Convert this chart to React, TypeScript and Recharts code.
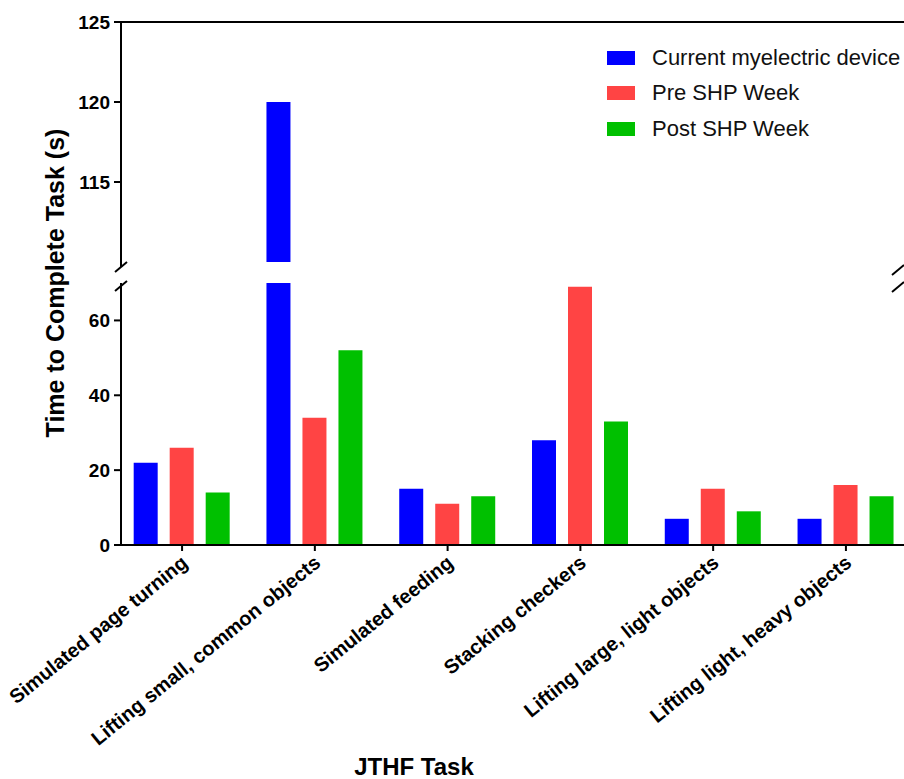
import { BarChart, Bar, XAxis, YAxis, Legend } from 'recharts'

const tasks = [
  'Simulated page turning',
  'Lifting small, common objects',
  'Simulated feeding',
  'Stacking checkers',
  'Lifting large, light objects',
  'Lifting light, heavy objects',
]
const currentDevice = [22, 120, 15, 28, 7, 7]
const preShp = [26, 34, 11, 69, 15, 16]
const postShp = [14, 52, 13, 33, 9, 13]
const seriesNames = ['Current myelectric device', 'Pre SHP Week', 'Post SHP Week']

const upperTicks = [115, 120, 125]
const lowerTicks = [0, 20, 40, 60]
const taskTicks = tasks.map((_, i) => i)

const rows = tasks.map((task, i) => ({
  idx: i,
  task,
  current: currentDevice[i],
  pre: preShp[i],
  post: postShp[i],
}))

const FONT = '"Liberation Sans", Arial, Helvetica, sans-serif'
const BLUE = '#0000ff'
const RED = '#ff4444'
const GREEN = '#00c000'
const X_DOMAIN: [number, number] = [-0.46, 5.46]

const yTick = { fill: '#000', fontSize: 19, fontWeight: 700, fontFamily: FONT }
const axisLine = { stroke: '#000', strokeWidth: 2 }

function TaskTick({ x, y, payload }: any) {
  return (
    <g transform={`translate(${x + 7},${y + 12})`}>
      <text
        x={0}
        y={0}
        textAnchor="end"
        transform="rotate(-39)"
        fill="#000"
        fontSize={20}
        fontWeight={700}
        fontFamily={FONT}
      >
        {tasks[payload.value]}
      </text>
    </g>
  )
}

function LegendBox({ payload }: any) {
  const items = [...(payload || [])].sort(
    (a: any, b: any) => seriesNames.indexOf(a.value) - seriesNames.indexOf(b.value)
  )
  return (
    <div style={{ fontFamily: FONT, fontSize: 22, color: '#111' }}>
      {items.map((entry: any) => (
        <div key={entry.value} style={{ display: 'flex', alignItems: 'center', height: 35.5 }}>
          <span style={{ width: 28, height: 14, background: entry.color, marginRight: 17, display: 'inline-block' }} />
          <span>{entry.value}</span>
        </div>
      ))}
    </div>
  )
}

function bars() {
  return [
    <Bar key="c" dataKey="current" name={seriesNames[0]} fill={BLUE} barSize={24} isAnimationActive={false} />,
    <Bar key="p" dataKey="pre" name={seriesNames[1]} fill={RED} barSize={24} isAnimationActive={false} />,
    <Bar key="o" dataKey="post" name={seriesNames[2]} fill={GREEN} barSize={24} isAnimationActive={false} />,
  ]
}

function Slash({ cx, cy }: { cx: number; cy: number }) {
  return <line x1={cx - 6} y1={cy + 5} x2={cx + 6} y2={cy - 5} stroke="#000" strokeWidth={2} />
}

export default function App() {
  return (
    <div style={{ position: 'absolute', left: 0, top: 0, width: 904, height: 779, overflow: 'hidden', background: '#fff' }}>
      {/* upper segment: 110 - 125 */}
      <div style={{ position: 'absolute', left: 0, top: 0 }}>
        <BarChart width={930} height={262} data={rows} barGap={12} margin={{ top: 21, right: 23, bottom: 0, left: 0 }}>
          <XAxis
            dataKey="idx"
            type="number"
            orientation="top"
            domain={X_DOMAIN}
            ticks={taskTicks}
            height={1}
            tick={false}
            tickLine={false}
            axisLine={axisLine}
          />
          <YAxis
            yAxisId={0}
            width={121}
            domain={[110, 125]}
            ticks={upperTicks}
            allowDataOverflow
            tick={yTick}
            tickSize={7}
            tickMargin={4}
            tickLine={axisLine}
            axisLine={axisLine}
          />
          <YAxis
            yAxisId="r"
            orientation="right"
            mirror
            domain={[110, 125]}
            ticks={upperTicks}
            tick={false}
            tickSize={7}
            tickLine={axisLine}
            axisLine={axisLine}
          />
          {bars()}
          <Legend
            layout="vertical"
            verticalAlign="middle"
            align="center"
            content={<LegendBox />}
            wrapperStyle={{ left: 607, top: 40, width: 320 }}
          />
        </BarChart>
      </div>

      {/* lower segment: 0 - 70 */}
      <div style={{ position: 'absolute', left: 0, top: 0 }}>
        <BarChart width={930} height={779} data={rows} barGap={12} margin={{ top: 283, right: 23, bottom: 0, left: 0 }}>
          <XAxis
            dataKey="idx"
            type="number"
            domain={X_DOMAIN}
            ticks={taskTicks}
            interval={0}
            height={234}
            tick={<TaskTick />}
            tickSize={6}
            tickMargin={2}
            tickLine={axisLine}
            axisLine={axisLine}
          />
          <YAxis
            yAxisId={0}
            width={121}
            domain={[0, 70]}
            ticks={lowerTicks}
            allowDataOverflow
            tick={yTick}
            tickSize={7}
            tickMargin={4}
            tickLine={axisLine}
            axisLine={axisLine}
          />
          <YAxis
            yAxisId="r"
            orientation="right"
            mirror
            domain={[0, 70]}
            ticks={lowerTicks}
            tick={false}
            tickSize={7}
            tickLine={axisLine}
            axisLine={axisLine}
          />
          {bars()}
        </BarChart>
      </div>

      {/* titles and axis breaks */}
      <svg width={904} height={779} style={{ position: 'absolute', left: 0, top: 0, pointerEvents: 'none' }}>
        <text
          transform="translate(64,283) rotate(-90)"
          textAnchor="middle"
          fill="#000"
          fontSize={25}
          fontWeight={700}
          fontFamily={FONT}
        >
          Time to Complete Task (s)
        </text>
        <text x={414} y={775} textAnchor="middle" fill="#000" fontSize={24} fontWeight={700} fontFamily={FONT}>
          JTHF Task
        </text>
        <line x1={121} y1={261} x2={121} y2={267} stroke="#000" strokeWidth={2} />
        <Slash cx={121} cy={267} />
        <Slash cx={121} cy={286} />
        <Slash cx={898} cy={270} />
        <Slash cx={898} cy={287} />
      </svg>
    </div>
  )
}
